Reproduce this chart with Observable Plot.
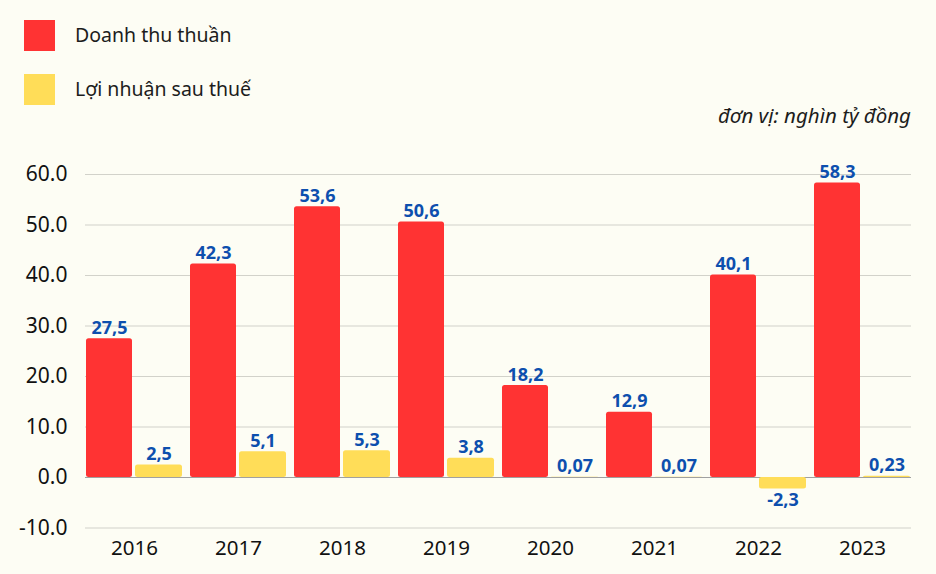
<!DOCTYPE html>
<html>
<head>
<meta charset="utf-8">
<script src="https://cdn.jsdelivr.net/npm/d3@7"></script>
<script src="https://cdn.jsdelivr.net/npm/@observablehq/plot@0.6"></script>
<style>
  html, body { margin: 0; padding: 0; background: #fdfdf4; }
  body { width: 936px; height: 574px; overflow: hidden; font-family: "Noto Sans", sans-serif; }
  #header { position: relative; height: 140px; }
  .sw { position: absolute; left: 24px; width: 31px; height: 31px; }
  .lt { position: absolute; left: 75px; font-size: 19.5px; color: #1c1c1c; line-height: 1; }
  #unit { position: absolute; right: 25px; top: 105px; font-size: 20.5px; font-style: italic; color: #1c1c1c; line-height: 1; }
</style>
</head>
<body>
<div id="header"></div>
<div id="chart"></div>
<script>
const years = ["2016", "2017", "2018", "2019", "2020", "2021", "2022", "2023"];
const revenue = [27.5, 42.3, 53.6, 50.6, 18.2, 12.9, 40.1, 58.3];
const profit = [2.5, 5.1, 5.3, 3.8, 0.07, 0.07, -2.3, 0.23];
const seriesNames = ["Doanh thu thuần", "Lợi nhuận sau thuế"];
const seriesColors = ["#ff3333", "#ffdd58"];
const yTicks = [-10, 0, 10, 20, 30, 40, 50, 60];
const unitText = "đơn vị: nghìn tỷ đồng";

const header = document.getElementById("header");
const tops = [20, 74];
seriesNames.forEach((name, i) => {
  const sw = document.createElement("div");
  sw.className = "sw";
  sw.style.top = tops[i] + "px";
  sw.style.background = seriesColors[i];
  header.appendChild(sw);
  const t = document.createElement("div");
  t.className = "lt";
  t.style.top = (tops[i] + 5) + "px";
  t.textContent = name;
  header.appendChild(t);
});
const u = document.createElement("div");
u.id = "unit";
u.textContent = unitText;
header.appendChild(u);

const revData = years.map((year, i) => ({year, value: revenue[i]}));
const profData = years.map((year, i) => ({year, value: profit[i]}));
const fmt = v => String(v).replace(".", ",");
const labelStyle = {fill: "#0d4fae", fontSize: 18, fontWeight: "bold"};

const chart = Plot.plot({
  width: 936,
  height: 434,
  marginTop: 34,
  marginBottom: 46.5,
  marginLeft: 85,
  marginRight: 25,
  style: {background: "transparent", fontFamily: "'Noto Sans', sans-serif", color: "#111"},
  x: {domain: years, paddingInner: 0.08, paddingOuter: 0, label: null, axis: null},
  y: {domain: [-10, 60], label: null, axis: null},
  marks: [
    Plot.ruleY(yTicks.filter(d => d !== 0), {stroke: "#d2d2ca", strokeWidth: 1.2}),
    Plot.ruleY([0], {stroke: "#a0a0a0", strokeWidth: 1.2}),
    Plot.barY(revData, {x: "year", y: "value", fill: seriesColors[0], insetRight: 50, rx: 2.5}),
    Plot.barY(profData, {x: "year", y: "value", fill: seriesColors[1], insetLeft: 49, rx: 2.5}),
    Plot.text(revData, {x: "year", y: "value", text: d => fmt(d.value), dx: -25, dy: -5, lineAnchor: "bottom", ...labelStyle}),
    Plot.text(profData.filter(d => d.value >= 0), {x: "year", y: "value", text: d => fmt(d.value), dx: 24.5, dy: -5, lineAnchor: "bottom", ...labelStyle}),
    Plot.text(profData.filter(d => d.value < 0), {x: "year", y: "value", text: d => fmt(d.value), dx: 24.5, dy: 4, lineAnchor: "top", ...labelStyle}),
    Plot.axisY(yTicks, {tickSize: 0, tickPadding: 18, tickFormat: d => d.toFixed(1), fontSize: 21, label: null}),
    Plot.axisX(years, {tickSize: 0, tickPadding: 12, fontSize: 20.5, label: null})
  ]
});
document.getElementById("chart").appendChild(chart);
</script>
</body>
</html>
